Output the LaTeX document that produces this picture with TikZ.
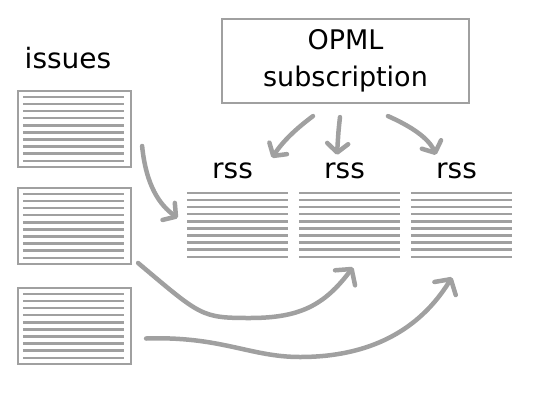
\documentclass[tikz,border=0pt]{standalone}
\usepackage{fontspec}
\newfontfamily\sketchfont{DejaVu Sans}
\usetikzlibrary{arrows.meta, positioning, calc}
\definecolor{sketchgray}{HTML}{A0A0A0}

\begin{document}
\begin{tikzpicture}[
    x=1pt, y=-1pt,
    issuebox/.style={draw=sketchgray, line width=2.2pt, rectangle, minimum width=113pt, minimum height=76pt, inner sep=0pt},
    feedlist/.style={rectangle, minimum width=101pt, minimum height=64pt, inner sep=0pt},
    ruled/.style={draw=sketchgray, line width=2.5pt},
    title/.style={font=\sketchfont\fontsize{28}{30}\selectfont, inner sep=0pt},
    flow/.style={-{Straight Barb[round, length=9pt, width=21pt]}, draw=sketchgray, line width=4.5pt, line cap=round},
    bigflow/.style={flow, -{Straight Barb[round, length=11pt, width=25pt]}}
]
\useasboundingbox (0,0) rectangle (533,400);

% --- Issues ---
\node[issuebox] (issueA) at (74.5, 129) {};
\node[issuebox] (issueB) at (74.5, 226) {};
\node[issuebox] (issueC) at (74.5, 326) {};
\node[title] (issues) at (68, 58) {issues};

% ruling of the issue sheets
\foreach \n in {issueA, issueB, issueC} {
    \foreach \i in {0,...,9} {
        \draw[ruled] ($(\n.north west)+(6, 7+7.1*\i)$) -- ++(101, 0);
    }
}

% --- Feeds ---
\node[feedlist] (rssA) at (237.5, 225) {};
\node[feedlist] (rssB) at (349.5, 225) {};
\node[feedlist] (rssC) at (461.5, 225) {};

\foreach \n in {rssA, rssB, rssC} {
    \foreach \i in {0,...,9} {
        \draw[ruled] ($(\n.north west)+(0, 64/9*\i)$) -- ++(101, 0);
    }
    \node[title, above=14pt of \n, xshift=-5pt] (\n-title) {rss};
}

% --- OPML ---
\node[draw=sketchgray, line width=2.2pt, minimum width=247pt, minimum height=84pt, align=center,
      font=\sketchfont\fontsize{27}{37}\selectfont] (opml) at (345.5, 61) {OPML\\subscription};

% --- Arrows from OPML ---
\draw[flow] ($(opml.south)+(-32.5, 12)$) .. controls ($(opml.south)+(-50, 25)$) and ($(rssA.north)+(45, -51)$) .. ($(rssA.north)+(34.5, -35)$);
\draw[flow] ($(opml.south)+(-5.5, 13)$) .. controls ($(opml.south)+(-7, 26)$) .. ($(rssB.north)+(-12.5, -38)$);
\draw[flow] ($(opml.south)+(42.5, 12)$) .. controls ($(opml.south)+(65, 22)$) and ($(rssC.north)+(-33, -55)$) .. ($(rssC.north)+(-25.5, -38)$);

% --- Arrows from issues ---
\draw[flow] ($(issueA.east)+(10, 17)$) .. controls ($(issueA.east)+(14, 57)$) and ($(rssA.west)+(-27, -20)$) .. ($(rssA.west)+(-9, -7)$);
\draw[bigflow] ($(issueB.east)+(6, 37)$) .. controls ($(issueB.east)+(69, 90)$) and ($(issueB.east)+(69, 92)$) .. (250, 318)
    .. controls (300, 318) and ($(rssB.south)+(-25, 48)$) .. ($(rssB.south)+(3.5, 10)$);
\draw[bigflow] ($(issueC.east)+(14, 12.5)$) .. controls ($(issueC.east)+(89, 10)$) and (250, 357) .. (300, 357)
    .. controls (370, 357) and ($(rssC.south)+(-42, 73)$) .. ($(rssC.south)+(-9.5, 20)$);

\end{tikzpicture}
\end{document}
